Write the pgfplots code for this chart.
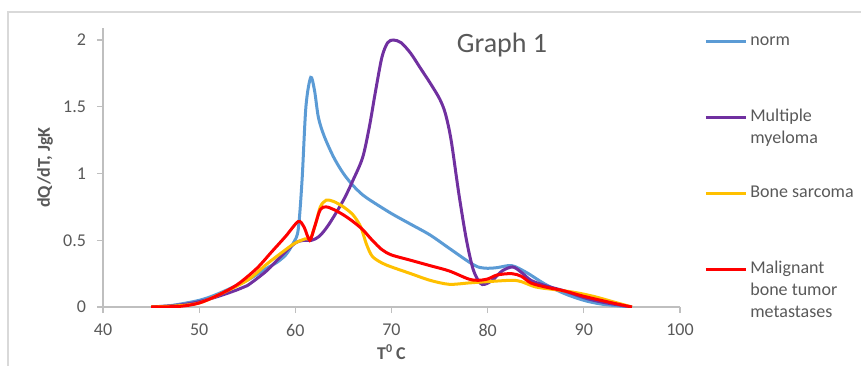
\documentclass[border=0pt]{standalone}
\usepackage{fontspec}
\setmainfont{Carlito}
\usepackage{pgfplots}
\pgfplotsset{compat=1.18}
\definecolor{cnorm}{HTML}{5B9BD5}
\definecolor{cmm}{HTML}{7030A0}
\definecolor{cbs}{HTML}{FFC000}
\definecolor{cmb}{HTML}{FF0000}
\definecolor{axgray}{HTML}{BFBFBF}
\definecolor{lblgray}{HTML}{595959}
\definecolor{bordergray}{HTML}{D9D9D9}
\newcommand{\lt}[1]{\rule{0pt}{36.5pt}\smash{\parbox[t]{60pt}{#1}}}
\begin{document}
\begin{tikzpicture}
\path[use as bounding box] (-51.5pt,-29pt) rectangle (379pt,153.5pt);
\draw[bordergray, line width=0.6pt] (-47.5pt,-40pt) -- (-47.5pt,147.5pt) -- (400pt,147.5pt);
\begin{axis}[
  at={(0pt,0pt)}, anchor=south west,
  scale only axis, width=288.5pt, height=139.5pt,
  xmin=40, xmax=100, ymin=0, ymax=2.09,
  xtick={40,50,...,100}, ytick={0,0.5,1,1.5,2},
  axis x line*=bottom, axis y line*=left,
  axis line style={draw=axgray, line width=0.6pt},
  tick style={draw=axgray, line width=0.6pt},
  tick align=outside, major tick length=3pt,
  /pgf/number format/assume math mode=true,
  ticklabel style={font=\fontsize{9}{11}\selectfont, text=lblgray},
  xticklabel style={yshift=-2pt},
  yticklabel style={xshift=-2pt},
  xlabel={\textbf{T\textsuperscript{0}\,C}},
  ylabel={\textbf{dQ/dT, JgK}},
  label style={font=\fontsize{9}{11}\selectfont, text=lblgray},
  xlabel style={at={(axis description cs:0.5,-0.1613)}, anchor=center},
  ylabel style={at={(axis description cs:-0.1005,0.5)}, anchor=center},
  legend style={at={(axis description cs:1.0415,1.2007)}, anchor=north west, draw=none, fill=none,
    inner sep=0pt, column sep=1.5pt, row sep=0pt,
    font=\fontsize{9}{11}\selectfont, text=lblgray,
    nodes={inner sep=0pt}, cells={anchor=base west}},
  legend image code/.code={\draw[#1, line width=1.5pt] (0pt,2.1pt) -- (20pt,2.1pt);},
  every axis plot/.append style={line width=1.5pt, smooth, tension=0.5},
]
\addplot[cnorm] coordinates {
(45,0) (47,0.01) (50,0.05) (52,0.1) (55,0.2) (57,0.29) (58,0.33) (59,0.39) (59.8,0.48) (60.3,0.58) (60.7,0.95) (61.1,1.5) (61.6,1.72) (62,1.62) (62.4,1.42) (63,1.28) (64,1.12) (65,1.0) (66,0.91) (67,0.84) (68,0.79) (70,0.70) (72,0.62) (74,0.54) (76,0.44) (78,0.34) (79,0.3) (80,0.29) (81,0.295) (82.5,0.31) (84,0.26) (86,0.17) (88,0.1) (90,0.05) (92,0.02) (95,0)
};
\addlegendentry{\lt{norm}}
\addplot[cmm] coordinates {
(45,0) (48,0.015) (50,0.04) (52,0.08) (54,0.13) (55,0.16) (57,0.27) (58.5,0.38) (60,0.48) (61,0.5) (61.7,0.5) (62.5,0.53) (63.5,0.62) (65,0.80) (66,0.95) (67,1.12) (67.7,1.35) (68.3,1.6) (69,1.87) (69.6,1.98) (70.2,2.0) (71,1.98) (72,1.9) (73,1.79) (74,1.68) (75,1.56) (75.6,1.45) (76.2,1.25) (77,0.85) (77.8,0.5) (78.5,0.28) (79.2,0.18) (79.7,0.17) (80.5,0.2) (81.5,0.27) (82.6,0.3) (83.5,0.26) (84.5,0.2) (86,0.16) (88,0.12) (90,0.07) (92,0.035) (95,0)
};
\addlegendentry{\lt{Multiple\\myeloma}}
\addplot[cbs] coordinates {
(45,0) (48,0.01) (50,0.03) (52,0.09) (55,0.2) (57,0.32) (59,0.43) (60,0.48) (61,0.51) (61.6,0.52) (62.1,0.62) (62.6,0.75) (63.2,0.8) (64,0.79) (65,0.75) (66,0.69) (66.8,0.6) (67.4,0.47) (68,0.38) (69,0.33) (70,0.3) (72,0.25) (74,0.2) (76,0.17) (78,0.18) (80,0.19) (82.5,0.2) (83.5,0.19) (85,0.15) (87,0.13) (89,0.11) (91,0.08) (93,0.04) (95,0)
};
\addlegendentry{\lt{Bone sarcoma}}
\addplot[cmb] coordinates {
(45,0) (48,0.005) (50,0.03) (52,0.09) (54,0.17) (56,0.29) (57.5,0.41) (59,0.53) (60.3,0.64) (60.9,0.6) (61.5,0.5) (62,0.6) (62.6,0.73) (63.2,0.75) (64,0.73) (65,0.69) (66,0.64) (67,0.58) (68,0.5) (69,0.43) (70,0.39) (72,0.35) (74,0.31) (76,0.27) (78,0.21) (79,0.2) (80,0.21) (81,0.24) (82.5,0.25) (83.5,0.23) (84.5,0.18) (86,0.15) (88,0.12) (90,0.08) (93,0.03) (95,0)
};
\addlegendentry{\lt{Malignant\\bone tumor\\metastases}}
\end{axis}
\node[font=\fontsize{14}{16}\selectfont, text=lblgray] at (199.5pt,131pt) {Graph 1};
\end{tikzpicture}
\end{document}
